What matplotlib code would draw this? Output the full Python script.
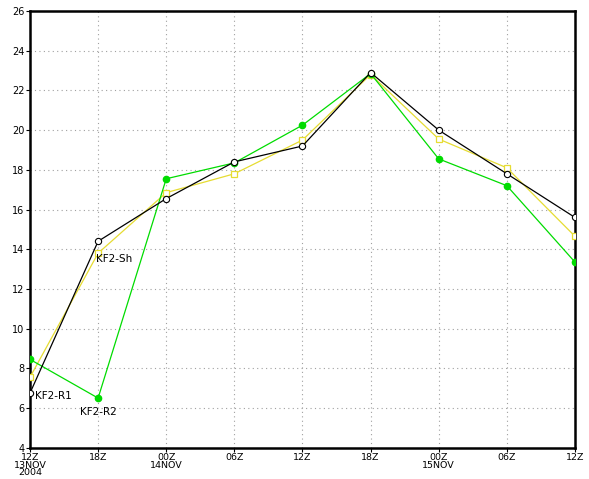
import numpy as np
import matplotlib
matplotlib.use("Agg")
from matplotlib import pyplot as plt

# time axis labels (6-hourly, 12Z 13NOV2004 -> 12Z 15NOV2004)
time_labels = ["12Z\n13NOV\n2004", "18Z", "00Z\n14NOV", "06Z", "12Z",
               "18Z", "00Z\n15NOV", "06Z", "12Z"]

kf2_r1 = [6.75, 14.4, 16.55, 18.4, 19.2, 22.9, 20.0, 17.8, 15.6]
kf2_sh = [7.55, 13.8, 16.85, 17.8, 19.5, 22.8, 19.55, 18.1, 14.65]
kf2_r2 = [8.45, 6.5, 17.55, 18.35, 20.25, 22.85, 18.55, 17.2, 13.35]

y_ticks = np.arange(4, 27, 2)

fig = plt.figure(figsize=(5.89, 4.79), dpi=100)
ax = fig.add_axes([0.0509, 0.0653, 0.9253, 0.9117])

x = np.arange(len(time_labels))

ax.plot(x, kf2_sh, color="#e6dc32", lw=0.9, marker="s", ms=5,
        mfc="white", mec="#e6dc32", mew=0.9, zorder=3)
ax.plot(x, kf2_r2, color="#00dc00", lw=0.9, marker="o", ms=4.5,
        mfc="#00dc00", mec="#00dc00", zorder=4)
ax.plot(x, kf2_r1, color="black", lw=0.9, marker="o", ms=4.5,
        mfc="white", mec="black", mew=0.8, zorder=5)

txt = dict(fontsize=7.5, family="DejaVu Sans", va="center")
ax.text(0.07, 6.6, "KF2-R1", ha="left", **txt)
ax.text(0.97, 13.5, "KF2-Sh", ha="left", **txt)
ax.text(1.0, 5.8, "KF2-R2", ha="center", **txt)

ax.set_xlim(0, len(time_labels) - 1)
ax.set_ylim(4, 26)
ax.set_xticks(x)
ax.set_xticklabels(time_labels, fontsize=6.8, linespacing=0.8)
ax.set_yticks(y_ticks)
ax.set_yticklabels([str(v) for v in y_ticks], fontsize=7)
ax.tick_params(direction="out", length=3, width=0.8, pad=1)

ax.grid(True, color="#a0a0a0", ls=(0, (1, 3)), lw=0.8)
for s in ax.spines.values():
    s.set_linewidth(1.8)
    s.set_color("black")

fig.savefig("out.png", dpi=100)
